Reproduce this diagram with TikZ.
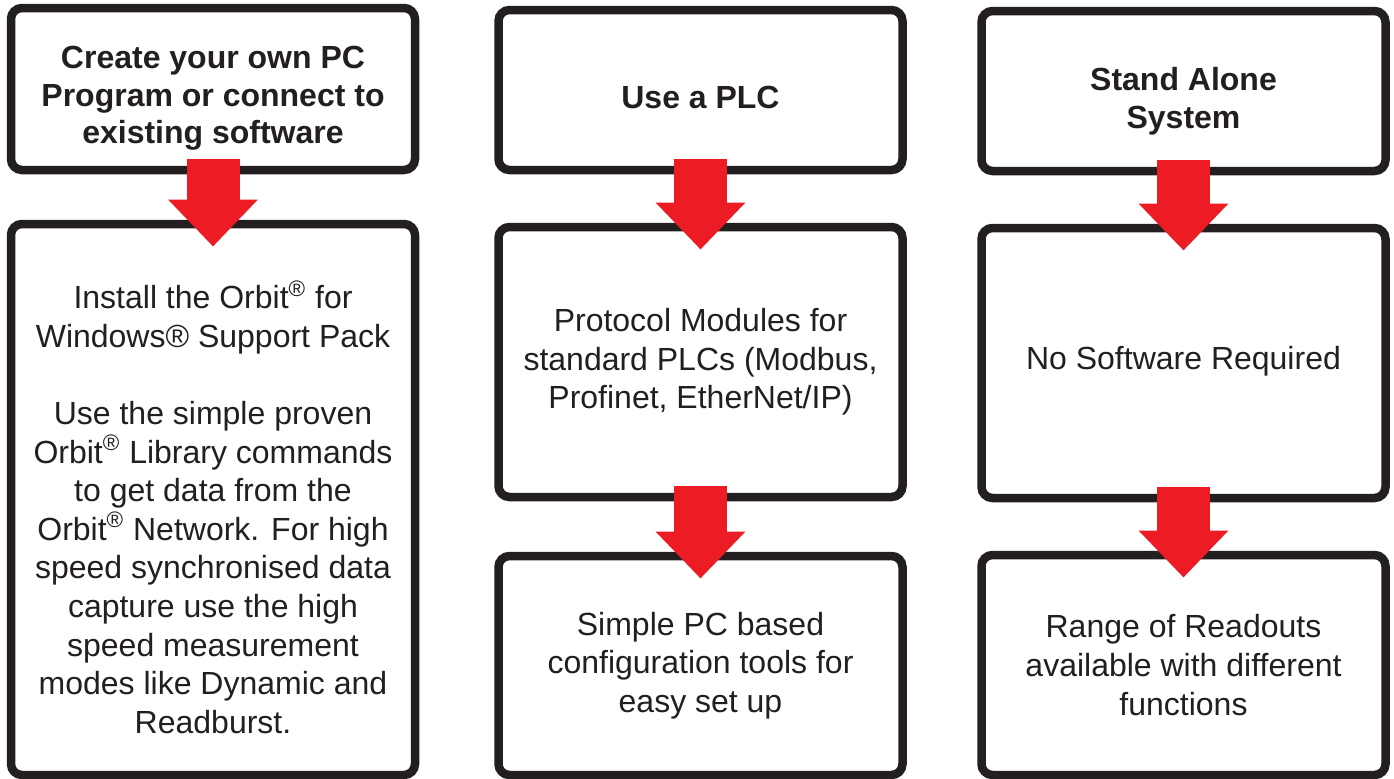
\documentclass[tikz,border=0pt]{standalone}
\usepackage{fontspec}
\setmainfont{Liberation Sans}
\usetikzlibrary{arrows.meta}
\definecolor{boxline}{HTML}{231F20}
\definecolor{arrowred}{HTML}{ED1C24}
% pushes the text block of a box down (height) or up (depth)
\newcommand{\dropto}[1]{\rule{0pt}{#1}}
\newcommand{\liftby}[1]{\rule[-#1]{0pt}{#1}}

\begin{document}
\begin{tikzpicture}[x=0.5pt,y=-0.5pt,
  stage/.style={draw=boxline, line width=4.25pt, rounded corners=5.5pt, fill=white,
    inner sep=0pt, outer sep=0pt, minimum width=202pt, align=center, text=boxline,
    font=\fontsize{16}{19.3}\selectfont},
  head/.style={stage, font=\fontsize{16}{18.8}\selectfont\bfseries},
  flow/.style={arrowred, line width=26.5pt, -{Triangle[width=43.5pt,length=23.5pt]}}]
  \useasboundingbox (0,0) rectangle (1394,778);

  % own software
  \node[head, minimum height=81pt] (pcprog) at (213,89)
    {\dropto{20.7pt}Create your own PC\\Program or connect to\\existing software};
  \node[stage, minimum height=275.5pt] (orbitpack) at (213,499.5)
    {\dropto{21.7pt}Install the Orbit\textsuperscript{®} for\\Windows® Support Pack\\[19.3pt]
     Use the simple proven\\Orbit\textsuperscript{®} Library commands\\to get data from the\\
     Orbit\textsuperscript{®} Network. For high\\speed synchronised data\\capture use the high\\
     speed measurement\\modes like Dynamic and\\Readburst.};

  % PLC
  \node[head, minimum height=80pt] (plc) at (700.5,90) {\dropto{18.7pt}Use a PLC};
  \node[stage, minimum height=135pt] (plcmod) at (700.5,362)
    {Protocol Modules for\\standard PLCs (Modbus,\\Profinet, EtherNet/IP)};
  \node[stage, minimum height=109.5pt] (plcconf) at (700.5,665.5)
    {Simple PC based\\configuration tools for\\easy set up};

  % stand alone
  \node[head, minimum height=80pt] (alone) at (1183.5,91) {\dropto{21.7pt}Stand Alone\\System};
  \node[stage, minimum height=135pt] (nosoft) at (1183.5,363) {No Software Required\liftby{5pt}};
  \node[stage, minimum height=110pt] (readouts) at (1183.5,665)
    {Range of Readouts\\available with different\\functions};

  \foreach \a/\b in {pcprog/orbitpack, plc/plcmod, plcmod/plcconf, alone/nosoft, nosoft/readouts}
    \draw[flow] ([yshift=5.75pt]\a.south) -- ([yshift=-11.25pt]\b.north);
\end{tikzpicture}
\end{document}
